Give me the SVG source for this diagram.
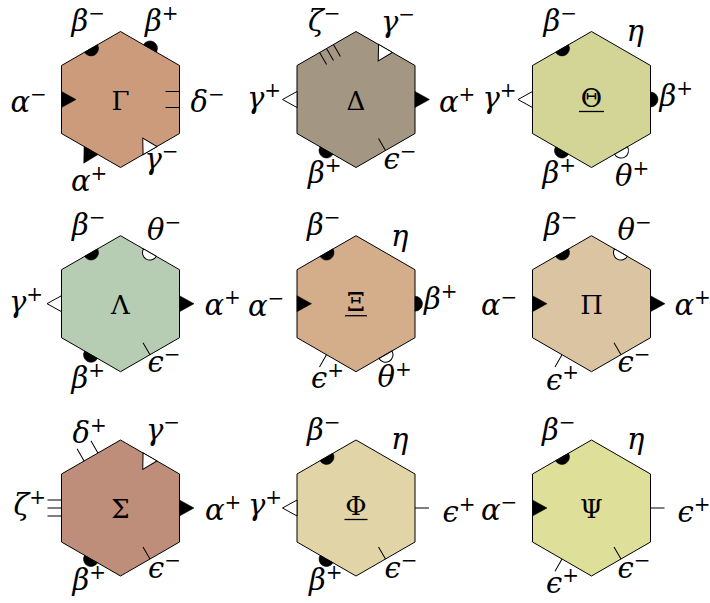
<svg xmlns="http://www.w3.org/2000/svg" width="710" height="603" viewBox="0 0 710 603">
<style>
.hex{stroke:#000;stroke-width:1;}
.lbl{font-family:'DejaVu Serif',serif;font-style:italic;font-size:29px;fill:#000;}
.sup{font-style:normal;font-size:20px;}
.ctr{font-family:'DejaVu Serif',serif;font-size:26px;text-anchor:middle;fill:#000;}
.ul{stroke:#000;stroke-width:1.3;}
.mb{fill:#000;stroke:#000;stroke-width:0.5;}
.mw{fill:#fff;stroke:#000;stroke-width:1;}
.ln{fill:none;stroke:#000;stroke-width:1;}
</style>
<defs>
<polygon id="hexshape" points="0,-68 59,-34 59,34 0,68 -59,34 -59,-34"/>
<polygon id="tob" class="mb" points="0,-8 0,8 14.5,0"/>
<polygon id="tib" class="mb" points="0,-8 0,8 -14.5,0"/>
<polygon id="tow" class="mw" points="0,-8 0,8 14.5,0"/>
<polygon id="tiw" class="mw" points="0,-8 0,8 -14.5,0"/>
<path id="dob" class="mb" d="M0,-7.5 A7.5,7.5 0 0 1 0,7.5 Z"/>
<path id="dib" class="mb" d="M0,-7.5 A7.5,7.5 0 0 0 0,7.5 Z"/>
<path id="dow" class="mw" d="M0,-7.5 A7.5,7.5 0 0 1 0,7.5 Z"/>
<path id="diw" class="mw" d="M0,-7.5 A7.5,7.5 0 0 0 0,7.5 Z"/>
<path id="l1o" class="ln" d="M0,0 H14"/>
<path id="l1i" class="ln" d="M0,0 H-14"/>
<path id="l2o" class="ln" d="M0,-8 H14 M0,8 H14"/>
<path id="l2i" class="ln" d="M0,-8 H-14 M0,8 H-14"/>
<path id="l3o" class="ln" d="M0,-8 H14 M0,0 H14 M0,8 H14"/>
<path id="l3i" class="ln" d="M0,-8 H-14 M0,0 H-14 M0,8 H-14"/>
</defs>
<rect width="710" height="603" fill="#fff"/>
<g id="connectors"/>

<g id="node-gamma" transform="translate(120.5,99.5)">
<use href="#hexshape" class="hex" fill="#CC9B7B"/>
<use href="#dib" transform="rotate(-120) translate(59,0)"/>
<use href="#dob" transform="rotate(-60) translate(59,0)"/>
<use href="#l2i" transform="rotate(0) translate(59,0)"/>
<use href="#tiw" transform="rotate(60) translate(59,0)"/>
<use href="#tob" transform="rotate(120) translate(59,0)"/>
<use href="#tib" transform="rotate(180) translate(59,0)"/>
<text class="ctr" x="0" y="10">Γ</text>
<text class="lbl" x="-49" y="-68.5">β<tspan class="sup" dy="-11">−</tspan></text>
<text class="lbl" x="24.5" y="-69">β<tspan class="sup" dy="-11">+</tspan></text>
<text class="lbl" x="-110" y="12">α<tspan class="sup" dy="-11">−</tspan></text>
<text class="lbl" x="70" y="12">δ<tspan class="sup" dy="-11">−</tspan></text>
<text class="lbl" x="-49.5" y="91">α<tspan class="sup" dy="-11">+</tspan></text>
<text class="lbl" x="24" y="69.5">γ<tspan class="sup" dy="-11">−</tspan></text>
</g>

<g id="node-delta" transform="translate(356,99.5)">
<use href="#hexshape" class="hex" fill="#A39683"/>
<use href="#l3i" transform="rotate(-120) translate(59,0)"/>
<use href="#tiw" transform="rotate(-60) translate(59,0)"/>
<use href="#tob" transform="rotate(0) translate(59,0)"/>
<use href="#l1i" transform="rotate(60) translate(59,0)"/>
<use href="#dob" transform="rotate(120) translate(59,0)"/>
<use href="#tow" transform="rotate(180) translate(59,0)"/>
<text class="ctr" x="0" y="10">Δ</text>
<text class="lbl" x="-48" y="-68.5">ζ<tspan class="sup" dy="-11">−</tspan></text>
<text class="lbl" x="25" y="-68">γ<tspan class="sup" dy="-11">−</tspan></text>
<text class="lbl" x="-109" y="8">γ<tspan class="sup" dy="-11">+</tspan></text>
<text class="lbl" x="83" y="12">α<tspan class="sup" dy="-11">+</tspan></text>
<text class="lbl" x="-48" y="83">β<tspan class="sup" dy="-11">+</tspan></text>
<text class="lbl" x="27.5" y="69">ϵ<tspan class="sup" dy="-11">−</tspan></text>
</g>

<g id="node-theta" transform="translate(591.5,99.5)">
<use href="#hexshape" class="hex" fill="#D2D596"/>
<use href="#dib" transform="rotate(-120) translate(59,0)"/>
<use href="#dob" transform="rotate(0) translate(59,0)"/>
<use href="#dow" transform="rotate(60) translate(59,0)"/>
<use href="#dob" transform="rotate(120) translate(59,0)"/>
<use href="#tow" transform="rotate(180) translate(59,0)"/>
<text class="ctr" x="0" y="7">Θ</text>
<line class="ul" x1="-12.5" y1="12" x2="12.5" y2="12"/>
<text class="lbl" x="-48" y="-68.5">β<tspan class="sup" dy="-11">−</tspan></text>
<text class="lbl" x="35" y="-59">η</text>
<text class="lbl" x="-109" y="8">γ<tspan class="sup" dy="-11">+</tspan></text>
<text class="lbl" x="68" y="6">β<tspan class="sup" dy="-11">+</tspan></text>
<text class="lbl" x="-49" y="83">β<tspan class="sup" dy="-11">+</tspan></text>
<text class="lbl" x="23.5" y="86.5">θ<tspan class="sup" dy="-11">+</tspan></text>
</g>

<g id="node-lambda" transform="translate(120.5,303.7)">
<use href="#hexshape" class="hex" fill="#B6CDB4"/>
<use href="#dib" transform="rotate(-120) translate(59,0)"/>
<use href="#diw" transform="rotate(-60) translate(59,0)"/>
<use href="#tob" transform="rotate(0) translate(59,0)"/>
<use href="#l1i" transform="rotate(60) translate(59,0)"/>
<use href="#dob" transform="rotate(120) translate(59,0)"/>
<use href="#tow" transform="rotate(180) translate(59,0)"/>
<text class="ctr" x="0" y="10">Λ</text>
<text class="lbl" x="-48.5" y="-68.5">β<tspan class="sup" dy="-11">−</tspan></text>
<text class="lbl" x="26.5" y="-64">θ<tspan class="sup" dy="-11">−</tspan></text>
<text class="lbl" x="-111.5" y="8">γ<tspan class="sup" dy="-11">+</tspan></text>
<text class="lbl" x="84" y="11.5">α<tspan class="sup" dy="-11">+</tspan></text>
<text class="lbl" x="-49" y="84">β<tspan class="sup" dy="-11">+</tspan></text>
<text class="lbl" x="27" y="68">ϵ<tspan class="sup" dy="-11">−</tspan></text>
</g>

<g id="node-xi" transform="translate(356,303.7)">
<use href="#hexshape" class="hex" fill="#D4AD8B"/>
<use href="#dib" transform="rotate(-120) translate(59,0)"/>
<use href="#dob" transform="rotate(0) translate(59,0)"/>
<use href="#dow" transform="rotate(60) translate(59,0)"/>
<use href="#l1o" transform="rotate(120) translate(59,0)"/>
<use href="#tib" transform="rotate(180) translate(59,0)"/>
<text class="ctr" x="0" y="7">Ξ</text>
<line class="ul" x1="-11" y1="12" x2="11" y2="12"/>
<text class="lbl" x="-49" y="-68.5">β<tspan class="sup" dy="-11">−</tspan></text>
<text class="lbl" x="35" y="-58">η</text>
<text class="lbl" x="-108" y="12.5">α<tspan class="sup" dy="-11">−</tspan></text>
<text class="lbl" x="68" y="5">β<tspan class="sup" dy="-11">+</tspan></text>
<text class="lbl" x="-45" y="84">ϵ<tspan class="sup" dy="-11">+</tspan></text>
<text class="lbl" x="21.5" y="83">θ<tspan class="sup" dy="-11">+</tspan></text>
</g>

<g id="node-pi" transform="translate(591.5,303.7)">
<use href="#hexshape" class="hex" fill="#DBC4A2"/>
<use href="#dib" transform="rotate(-120) translate(59,0)"/>
<use href="#diw" transform="rotate(-60) translate(59,0)"/>
<use href="#tob" transform="rotate(0) translate(59,0)"/>
<use href="#l1i" transform="rotate(60) translate(59,0)"/>
<use href="#l1o" transform="rotate(120) translate(59,0)"/>
<use href="#tib" transform="rotate(180) translate(59,0)"/>
<text class="ctr" x="0" y="10">Π</text>
<text class="lbl" x="-47.5" y="-68.5">β<tspan class="sup" dy="-11">−</tspan></text>
<text class="lbl" x="26" y="-64">θ<tspan class="sup" dy="-11">−</tspan></text>
<text class="lbl" x="-110.5" y="11.5">α<tspan class="sup" dy="-11">−</tspan></text>
<text class="lbl" x="83" y="11.5">α<tspan class="sup" dy="-11">+</tspan></text>
<text class="lbl" x="-45.5" y="86">ϵ<tspan class="sup" dy="-11">+</tspan></text>
<text class="lbl" x="26" y="68.5">ϵ<tspan class="sup" dy="-11">−</tspan></text>
</g>

<g id="node-sigma" transform="translate(120.5,508)">
<use href="#hexshape" class="hex" fill="#BF8E7A"/>
<use href="#l2o" transform="rotate(-120) translate(59,0)"/>
<use href="#tiw" transform="rotate(-60) translate(59,0)"/>
<use href="#tob" transform="rotate(0) translate(59,0)"/>
<use href="#l1i" transform="rotate(60) translate(59,0)"/>
<use href="#dob" transform="rotate(120) translate(59,0)"/>
<use href="#l3o" transform="rotate(180) translate(59,0)"/>
<text class="ctr" x="0" y="10">Σ</text>
<text class="lbl" x="-48" y="-65">δ<tspan class="sup" dy="-11">+</tspan></text>
<text class="lbl" x="25.5" y="-68">γ<tspan class="sup" dy="-11">−</tspan></text>
<text class="lbl" x="-107" y="7">ζ<tspan class="sup" dy="-11">+</tspan></text>
<text class="lbl" x="84.5" y="12">α<tspan class="sup" dy="-11">+</tspan></text>
<text class="lbl" x="-48" y="82">β<tspan class="sup" dy="-11">+</tspan></text>
<text class="lbl" x="27.5" y="70">ϵ<tspan class="sup" dy="-11">−</tspan></text>
</g>

<g id="node-phi" transform="translate(356,508)">
<use href="#hexshape" class="hex" fill="#E1D5A8"/>
<use href="#dib" transform="rotate(-120) translate(59,0)"/>
<use href="#l1o" transform="rotate(0) translate(59,0)"/>
<use href="#l1i" transform="rotate(60) translate(59,0)"/>
<use href="#dob" transform="rotate(120) translate(59,0)"/>
<use href="#tow" transform="rotate(180) translate(59,0)"/>
<text class="ctr" x="0" y="7">Φ</text>
<line class="ul" x1="-11.5" y1="11.5" x2="11.5" y2="11.5"/>
<text class="lbl" x="-49" y="-68">β<tspan class="sup" dy="-11">−</tspan></text>
<text class="lbl" x="35" y="-59">η</text>
<text class="lbl" x="-108" y="7">γ<tspan class="sup" dy="-11">+</tspan></text>
<text class="lbl" x="86.5" y="13.5">ϵ<tspan class="sup" dy="-11">+</tspan></text>
<text class="lbl" x="-47" y="82">β<tspan class="sup" dy="-11">+</tspan></text>
<text class="lbl" x="28.5" y="70">ϵ<tspan class="sup" dy="-11">−</tspan></text>
</g>

<g id="node-psi" transform="translate(591.5,508)">
<use href="#hexshape" class="hex" fill="#DEDF98"/>
<use href="#dib" transform="rotate(-120) translate(59,0)"/>
<use href="#l1o" transform="rotate(0) translate(59,0)"/>
<use href="#l1i" transform="rotate(60) translate(59,0)"/>
<use href="#l1o" transform="rotate(120) translate(59,0)"/>
<use href="#tib" transform="rotate(180) translate(59,0)"/>
<text class="ctr" x="0" y="10">Ψ</text>
<text class="lbl" x="-49.5" y="-68">β<tspan class="sup" dy="-11">−</tspan></text>
<text class="lbl" x="35.5" y="-59">η</text>
<text class="lbl" x="-110.5" y="12">α<tspan class="sup" dy="-11">−</tspan></text>
<text class="lbl" x="86" y="13.5">ϵ<tspan class="sup" dy="-11">+</tspan></text>
<text class="lbl" x="-45.5" y="85">ϵ<tspan class="sup" dy="-11">+</tspan></text>
<text class="lbl" x="26" y="70">ϵ<tspan class="sup" dy="-11">−</tspan></text>
</g>
</svg>
